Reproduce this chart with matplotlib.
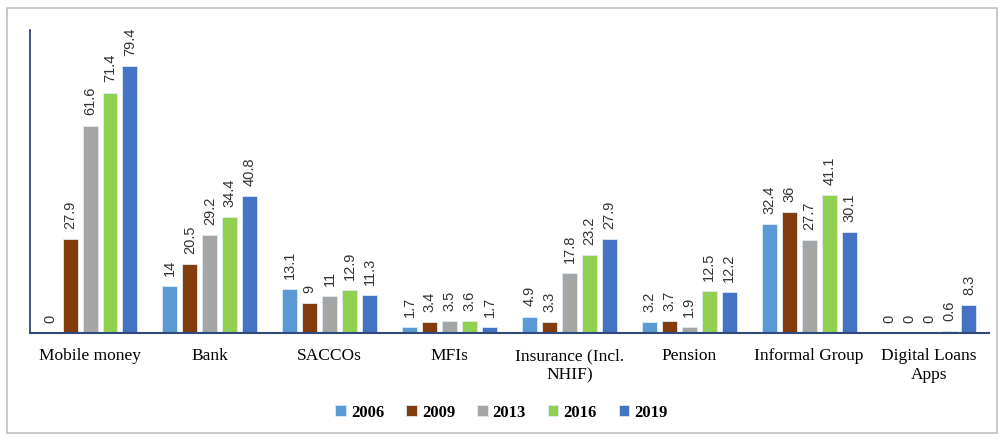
import numpy as np
import matplotlib.pyplot as plt
from matplotlib.patches import Rectangle

categories = ['Mobile money', 'Bank', 'SACCOs', 'MFIs', 'Insurance (Incl.\nNHIF)',
              'Pension', 'Informal Group', 'Digital Loans\nApps']
years = ['2006', '2009', '2013', '2016', '2019']
v2006 = [0, 14, 13.1, 1.7, 4.9, 3.2, 32.4, 0]
v2009 = [27.9, 20.5, 9, 3.4, 3.3, 3.7, 36, 0]
v2013 = [61.6, 29.2, 11, 3.5, 17.8, 1.9, 27.7, 0]
v2016 = [71.4, 34.4, 12.9, 3.6, 23.2, 12.5, 41.1, 0.6]
v2019 = [79.4, 40.8, 11.3, 1.7, 27.9, 12.2, 30.1, 8.3]
series = [v2006, v2009, v2013, v2016, v2019]
colors = ['#5B9BD5', '#843C0C', '#A5A5A5', '#92D050', '#4472C4']

fig = plt.figure(figsize=(10.03, 4.4), dpi=100)
ax = fig.add_axes([0.03, 0.243, 0.956, 0.689])

x = np.arange(len(categories))
step = 0.1667
width = 0.125
for i, (vals, c, yr) in enumerate(zip(series, colors, years)):
    xs = x + (i - 2) * step
    ax.bar(xs, vals, width, color=c, edgecolor='#DDEBF7', linewidth=0.6, label=yr)
    for xi, v in zip(xs, vals):
        ax.text(xi, v + 3.0, ('%g' % v), rotation=90, ha='center', va='bottom',
                fontsize=10.5, family='Liberation Sans', color='#333333')

ax.set_xlim(-0.5, 7.5)
ax.set_ylim(0, 90)
ax.set_yticks([])
ax.set_xticks(x)
ax.set_xticklabels(categories, family='Liberation Serif', fontsize=12.5, color='black',
                   linespacing=1.25)
ax.tick_params(axis='x', length=0, pad=11)
for s in ['top', 'right']:
    ax.spines[s].set_visible(False)
ax.spines['left'].set_color('#1F3864')
ax.spines['bottom'].set_color('#2F4A7A')
ax.spines['left'].set_linewidth(1.2)
ax.spines['bottom'].set_linewidth(1.5)

leg = fig.legend(loc='center', bbox_to_anchor=(0.5, 0.062), ncol=5, frameon=False,
                 prop={'family': 'Liberation Serif', 'weight': 'bold', 'size': 12},
                 handlelength=0.65, handleheight=0.65, handletextpad=0.3, columnspacing=1.3)

fig.patches.append(Rectangle((0.007, 0.016), 0.987, 0.966, transform=fig.transFigure,
                             fill=False, edgecolor='#BFBFBF', linewidth=1.2))

fig.savefig('out.png', dpi=100)
